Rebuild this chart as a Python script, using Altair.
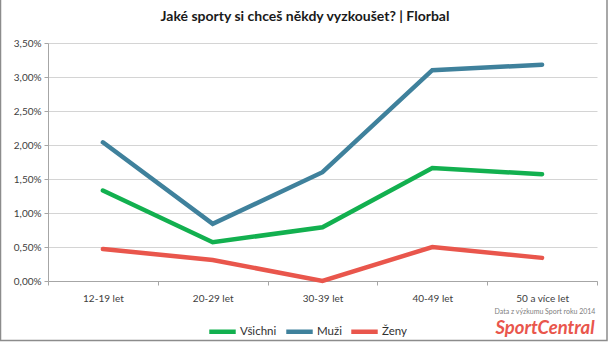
import altair as alt
import pandas as pd

categories = ["12-19 let", "20-29 let", "30-39 let", "40-49 let", "50 a více let"]
series_names = ["Všichni", "Muži", "Ženy"]
vsichni = [0.0133, 0.0057, 0.0079, 0.0166, 0.0157]
muzi = [0.0204, 0.0084, 0.0160, 0.0310, 0.0318]
zeny = [0.0047, 0.0031, 0.0000, 0.0050, 0.0034]
colors = ["#12b04f", "#3f819c", "#e9564c"]
y_ticks = [0, 0.005, 0.01, 0.015, 0.02, 0.025, 0.03, 0.035]
title_text = "Jaké sporty si chceš někdy vyzkoušet? | Florbal"
source_text = "Data z výzkumu Sport roku 2014"
brand_text = "SportCentral"

rows = []
for name, vals in zip(series_names, [vsichni, muzi, zeny]):
    for c, v in zip(categories, vals):
        rows.append({"kategorie": c, "serie": name, "hodnota": v})
df = pd.DataFrame(rows)

FONT = "Lato"

lines = alt.Chart(df).mark_line(strokeWidth=4.5, strokeCap="round", strokeJoin="miter").encode(
    x=alt.X("kategorie:N", sort=categories, title=None,
            scale=alt.Scale(paddingInner=0, paddingOuter=0),
            axis=alt.Axis(labelAngle=0, labelFont=FONT, labelFontSize=10, labelColor="#404040",
                          labelPadding=8, domainColor="#a6a6a6", tickColor="#a6a6a6",
                          tickBand="extent", tickSize=4, grid=False)),
    y=alt.Y("hodnota:Q", title=None,
            scale=alt.Scale(domain=[0, 0.035], nice=False),
            axis=alt.Axis(values=y_ticks,
                          labelExpr="replace(format(datum.value, '.2%'), '.', ',')",
                          labelFont=FONT, labelFontSize=10, labelColor="#404040",
                          domainColor="#a6a6a6", tickColor="#a6a6a6", tickSize=4,
                          labelPadding=3,
                          gridColor="#d4d4d4", gridWidth=1)),
    color=alt.Color("serie:N", sort=series_names,
                    scale=alt.Scale(domain=series_names, range=colors),
                    legend=alt.Legend(title=None, orient="none", direction="horizontal",
                                      legendX=159, legendY=273,
                                      symbolType="stroke", symbolStrokeWidth=4.5,
                                      symbolSize=700, labelFont=FONT, labelFontSize=11.5,
                                      labelColor="#303030", labelOffset=2,
                                      columnPadding=0)),
)

one = pd.DataFrame({"a": [1]})

title = alt.Chart(one).mark_text(font=FONT, fontSize=14, fontWeight="bold",
                                 color="#1a1a1a", align="center", baseline="middle").encode(
    x=alt.value(257), y=alt.value(-26), text=alt.value(title_text))

source = alt.Chart(one).mark_text(font=FONT, fontSize=7, color="#808080",
                                  align="center", baseline="middle").encode(
    x=alt.value(497), y=alt.value(269), text=alt.value(source_text))

brand = alt.Chart(one).mark_text(font=FONT, fontSize=18.5, fontWeight="bold", fontStyle="italic",
                                 color="#e9564c", align="center", baseline="middle").encode(
    x=alt.value(497), y=alt.value(285), text=alt.value(brand_text))

frame = alt.Chart(one).mark_rect(fill=None, stroke="#8c8c8c", strokeWidth=1.5).encode(
    x=alt.value(-47.5), x2=alt.value(559), y=alt.value(-60), y2=alt.value(297.5))

chart = alt.layer(lines, title, source, brand, frame).properties(
    width=549, height=238,
    autosize=alt.AutoSizeParams(type="none"),
    padding={"left": 48, "top": 43, "right": 13, "bottom": 62},
    background="white",
).configure_view(stroke=None)

chart.save("out.html", embed_options={"renderer": "svg", "actions": False})
